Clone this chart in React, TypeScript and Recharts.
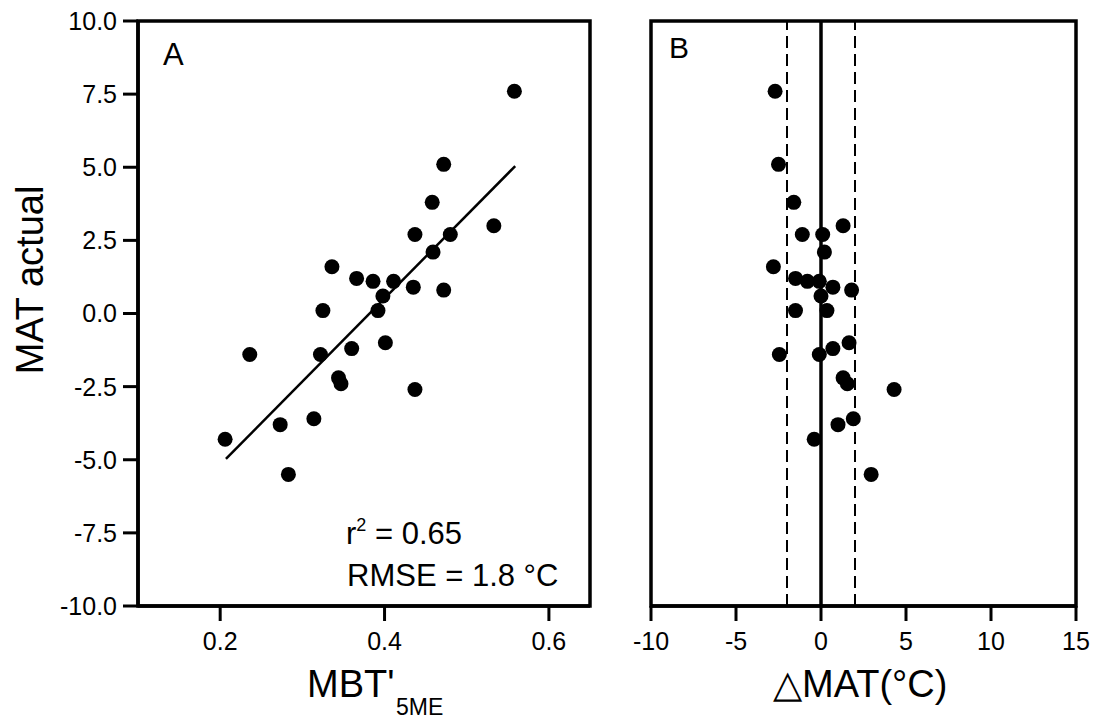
import { ScatterChart, Scatter, XAxis, YAxis, ReferenceLine, ReferenceArea } from "recharts";

// MBT'5ME values (panel A)
const mbt = [
  0.558, 0.472, 0.458, 0.533, 0.437, 0.48, 0.459, 0.336, 0.366, 0.386, 0.411, 0.435, 0.472, 0.398,
  0.325, 0.392, 0.236, 0.322, 0.36, 0.401, 0.344, 0.347, 0.437, 0.314, 0.273, 0.206, 0.283,
];
// actual MAT, shared y by both panels
const matActual = [
  7.6, 5.1, 3.8, 3.0, 2.7, 2.7, 2.1, 1.6, 1.2, 1.1, 1.1, 0.9, 0.8, 0.6,
  0.1, 0.1, -1.4, -1.4, -1.2, -1.0, -2.2, -2.4, -2.6, -3.6, -3.8, -4.3, -5.5,
];
// residuals (panel B)
const deltaMat = [
  -2.7, -2.5, -1.6, 1.3, -1.1, 0.1, 0.2, -2.8, -1.5, -0.8, -0.1, 0.7, 1.8, 0.0,
  -1.5, 0.35, -2.45, -0.1, 0.7, 1.65, 1.3, 1.55, 4.3, 1.9, 1.0, -0.4, 2.95,
];

const fitLine = [
  { x: 0.207, y: -4.97 },
  { x: 0.559, y: 5.04 },
];

const yTicks = [-10, -7.5, -5, -2.5, 0, 2.5, 5, 7.5, 10];
const xTicksA = [0.2, 0.4, 0.6];
const xTicksB = [-10, -5, 0, 5, 10, 15];
const bandLimits = [-2, 2];

const dataA = mbt.map((x, i) => ({ x, y: matActual[i] }));
const dataB = deltaMat.map((x, i) => ({ x, y: matActual[i] }));

const font = "'Liberation Sans', Arial, sans-serif";
const tickStyle = { fill: "#000", fontSize: 25, fontFamily: font };

const Dot = (p: any) => <circle cx={p.cx} cy={p.cy} r={7.5} fill="#000" />;

const App = () => {
  return (
    <div style={{ position: "absolute", left: 0, top: 0, width: 1098, height: 722, background: "#fff" }}>
      <div style={{ position: "absolute", left: 0, top: 0 }}>
        <ScatterChart width={620} height={722} margin={{ top: 21, right: 30, bottom: 0, left: 0 }}>
          <XAxis
            dataKey="x"
            type="number"
            domain={[0.1, 0.65]}
            ticks={xTicksA}
            interval={0}
            allowDataOverflow
            height={116}
            tickFormatter={(v: number) => v.toFixed(1)}
            tick={tickStyle}
            tickSize={15}
            tickMargin={11}
            tickLine={{ stroke: "#000", strokeWidth: 3 }}
            axisLine={{ stroke: "#000", strokeWidth: 3.5 }}
          />
          <YAxis
            dataKey="y"
            type="number"
            domain={[-10, 10]}
            ticks={yTicks}
            interval={0}
            allowDataOverflow
            width={138}
            tickFormatter={(v: number) => v.toFixed(1)}
            tick={tickStyle}
            tickSize={15}
            tickMargin={6}
            tickLine={{ stroke: "#000", strokeWidth: 3 }}
            axisLine={{ stroke: "#000", strokeWidth: 3.5 }}
          />
          <ReferenceArea x1={0.1} x2={0.65} y1={-10} y2={10} fill="none" stroke="#000" strokeWidth={3.5} ifOverflow="visible" />
          <ReferenceLine segment={fitLine} stroke="#000" strokeWidth={2.5} ifOverflow="visible" />
          <Scatter data={dataA} shape={Dot} isAnimationActive={false} />
        </ScatterChart>
      </div>
      <div style={{ position: "absolute", left: 620, top: 0 }}>
        <ScatterChart width={478} height={722} margin={{ top: 21, right: 22, bottom: 0, left: 31 }}>
          <XAxis
            dataKey="x"
            type="number"
            domain={[-10, 15]}
            ticks={xTicksB}
            interval={0}
            allowDataOverflow
            height={116}
            tick={tickStyle}
            tickSize={15}
            tickMargin={11}
            tickLine={{ stroke: "#000", strokeWidth: 3 }}
            axisLine={{ stroke: "#000", strokeWidth: 3.5 }}
          />
          <YAxis dataKey="y" type="number" domain={[-10, 10]} allowDataOverflow hide />
          <ReferenceArea x1={-10} x2={15} y1={-10} y2={10} fill="none" stroke="#000" strokeWidth={3.5} ifOverflow="visible" />
          {bandLimits.map((b) => (
            <ReferenceLine key={b} x={b} stroke="#000" strokeWidth={2} strokeDasharray="12 6" />
          ))}
          <ReferenceLine x={0} stroke="#000" strokeWidth={3.5} />
          <Scatter data={dataB} shape={Dot} isAnimationActive={false} />
        </ScatterChart>
      </div>
      <svg width={1098} height={722} style={{ position: "absolute", left: 0, top: 0, pointerEvents: "none" }}>
        <g fontFamily={font} fill="#000">
          <text x={43} y={280} fontSize={38} textAnchor="middle" transform="rotate(-90 43 280)">
            MAT actual
          </text>
          <text x={307} y={697} fontSize={38}>
            MBT'
          </text>
          <text x={396} y={715} fontSize={23}>
            5ME
          </text>
          <text x={773} y={697} fontSize={38}>
            △MAT(°C)
          </text>
          <text x={163} y={65} fontSize={31}>
            A
          </text>
          <text x={669} y={58} fontSize={30}>
            B
          </text>
          <text x={346} y={544} fontSize={31}>
            r<tspan fontSize={18} dy={-13}>2</tspan>
            <tspan dy={13}> = 0.65</tspan>
          </text>
          <text x={347} y={586} fontSize={31}>
            RMSE = 1.8 °C
          </text>
        </g>
      </svg>
    </div>
  );
};

export default App;
